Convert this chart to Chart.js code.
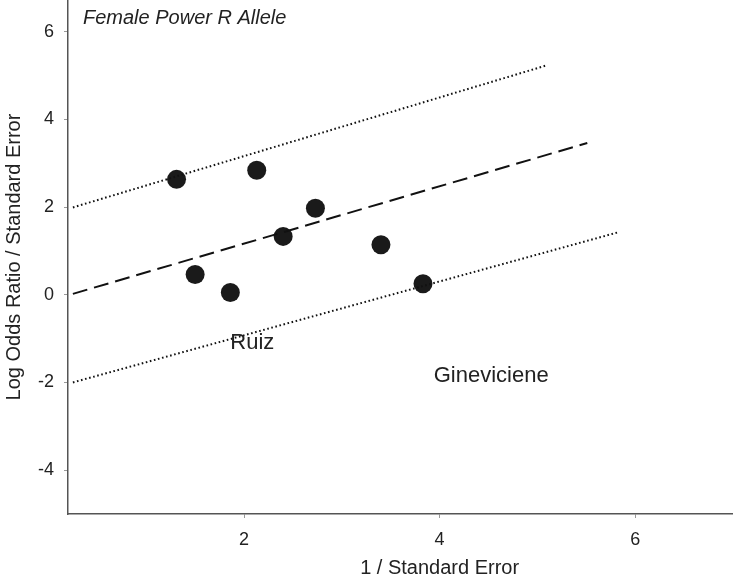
<!DOCTYPE html>
<html>
<head>
<meta charset="utf-8">
<script src="https://cdn.jsdelivr.net/npm/chart.js@4.4.0/dist/chart.umd.min.js"></script>
<style>
  html, body { margin: 0; padding: 0; background: #fff; }
  #wrap { width: 733px; height: 577px; position: relative; }
</style>
</head>
<body>
<div id="wrap"><canvas id="c"></canvas></div>
<script>
// ---- data ----
const studyPrecision = [1.31, 2.13, 1.50, 1.86, 2.40, 2.73, 3.40, 3.83];   // 1 / SE
const studyZ         = [2.63, 2.84, 0.46, 0.05, 1.33, 1.97, 1.14, 0.25];   // logOR / SE

const fitLineX   = [0.25, 5.51];
const fitLineY   = [0.02, 3.46];
const upperLineX = [0.25, 5.08];
const upperLineY = [1.99, 5.22];
const lowerLineX = [0.25, 5.82];
const lowerLineY = [-2.00, 1.42];

const xTickValues = [2, 4, 6];
const yTickValues = [-4, -2, 0, 2, 4, 6];

const labelTexts = ['Ruiz', 'Gineviciene'];
const labelX     = [1.86, 3.94];
const labelY     = [-1.11, -1.85];

const chartTitle = 'Female Power R Allele';
const xAxisTitle = '1 / Standard Error';
const xAxisTitleAt = 4;
const yAxisTitle = 'Log Odds Ratio / Standard Error';

// ---- build ----
const toPts = (xs, ys) => xs.map((x, i) => ({ x: x, y: ys[i] }));
const FONT = '"Liberation Sans", Arial, sans-serif';

const annotations = {
  id: 'annotations',
  afterDatasetsDraw(chart) {
    const { ctx, chartArea, scales } = chart;
    ctx.save();
    ctx.fillStyle = '#222';
    ctx.textBaseline = 'middle';
    ctx.textAlign = 'left';
    ctx.font = 'italic 20px ' + FONT;
    ctx.fillText(chartTitle, chartArea.left + 15, chartArea.top + 18);
    ctx.font = '22px ' + FONT;
    labelTexts.forEach((t, i) => {
      ctx.fillText(t, scales.x.getPixelForValue(labelX[i]), scales.y.getPixelForValue(labelY[i]));
    });
    ctx.font = '20px ' + FONT;
    ctx.textAlign = 'center';
    ctx.fillText(xAxisTitle, scales.x.getPixelForValue(xAxisTitleAt), chartArea.bottom + 54);
    ctx.restore();
  }
};

const zeroPad = s => { s.paddingTop = 0; s.paddingBottom = 0; s.paddingLeft = 0; s.paddingRight = 0; };

new Chart(document.getElementById('c'), {
  type: 'scatter',
  data: {
    datasets: [
      {
        label: 'upper',
        data: toPts(upperLineX, upperLineY),
        showLine: true, pointRadius: 0,
        borderColor: '#111', borderWidth: 2, borderDash: [1.6, 2.6]
      },
      {
        label: 'fit',
        data: toPts(fitLineX, fitLineY),
        showLine: true, pointRadius: 0,
        borderColor: '#111', borderWidth: 2, borderDash: [15, 7]
      },
      {
        label: 'lower',
        data: toPts(lowerLineX, lowerLineY),
        showLine: true, pointRadius: 0,
        borderColor: '#111', borderWidth: 2, borderDash: [1.6, 2.6]
      },
      {
        label: 'studies',
        data: toPts(studyPrecision, studyZ),
        pointRadius: 9.5, pointHoverRadius: 9.5,
        backgroundColor: '#1a1a1a', borderColor: '#1a1a1a', borderWidth: 0
      }
    ]
  },
  options: {
    responsive: true,
    maintainAspectRatio: false,
    animation: false,
    layout: { padding: 0, autoPadding: false },
    plugins: { legend: { display: false }, tooltip: { enabled: false } },
    scales: {
      x: {
        type: 'linear',
        min: 0.2, max: 7.0,
        afterBuildTicks: s => { s.ticks = xTickValues.map(v => ({ value: v })); },
        afterFit: s => { s.height = 63; zeroPad(s); },
        border: { display: true, color: '#555', width: 1.5 },
        grid: { display: true, drawOnChartArea: false, drawTicks: true, tickLength: 4, color: '#999' },
        ticks: { color: '#222', font: { family: FONT, size: 18 }, padding: 11, maxRotation: 0 },
        title: { display: false }
      },
      y: {
        type: 'linear',
        min: -5.0, max: 6.72,
        afterBuildTicks: s => { s.ticks = yTickValues.map(v => ({ value: v })); },
        afterFit: s => { s.width = 68; zeroPad(s); },
        border: { display: true, color: '#555', width: 1.5 },
        grid: { display: true, drawOnChartArea: false, drawTicks: true, tickLength: 4, color: '#999' },
        ticks: { color: '#222', font: { family: FONT, size: 18 }, padding: 10 },
        title: { display: true, text: yAxisTitle, color: '#222', font: { family: FONT, size: 20 }, padding: { top: 2, bottom: 0 } }
      }
    }
  },
  plugins: [annotations]
});
</script>
</body>
</html>
